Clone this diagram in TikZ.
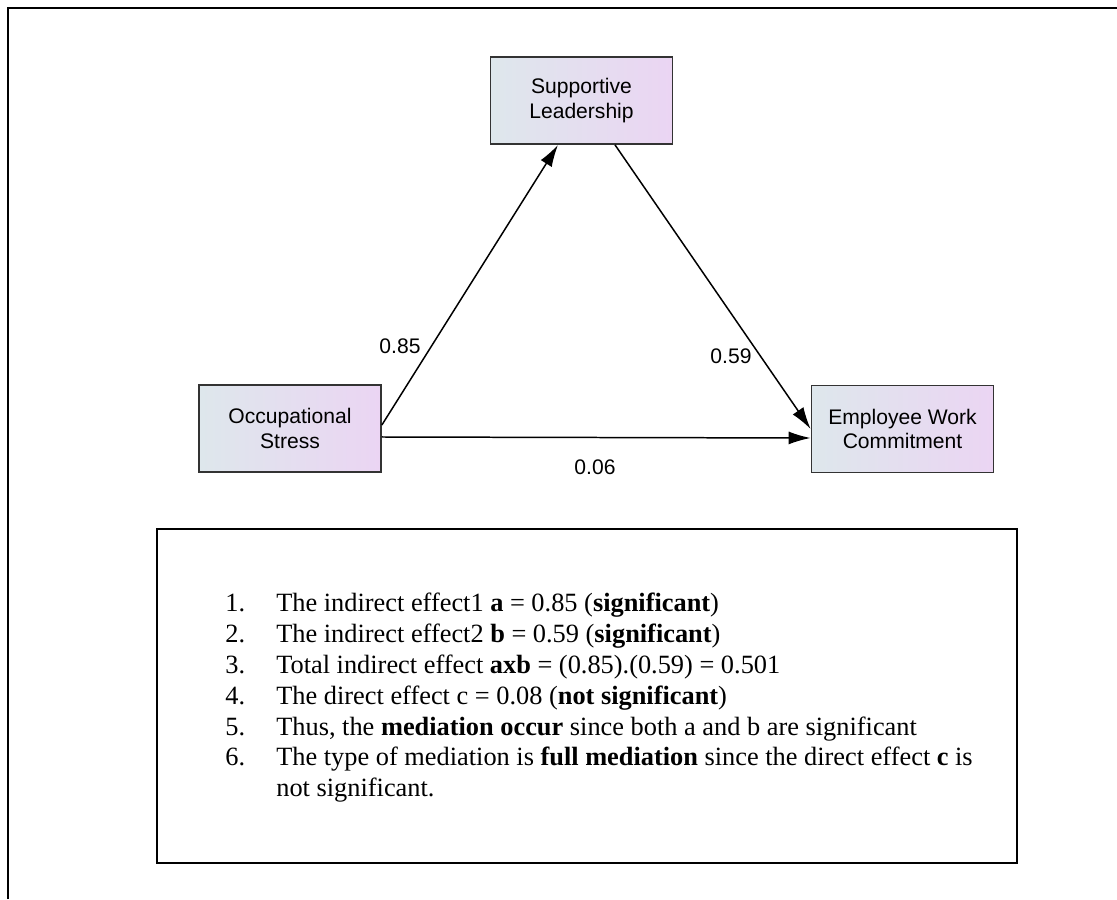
\documentclass[tikz,border=0pt]{standalone}
\usepackage{fontspec}
\setmainfont{Liberation Sans}
\newfontfamily\notefont{Liberation Serif}
\usetikzlibrary{arrows.meta}
\definecolor{boxleft}{RGB}{222,231,236}
\definecolor{boxright}{RGB}{235,213,243}

\begin{document}
\begin{tikzpicture}[
  varbox/.style={draw=black!80, line width=1pt, left color=boxleft, right color=boxright,
    minimum width=3.64cm, minimum height=1.74cm, align=center,
    font=\fontsize{12}{14}\selectfont},
  effect/.style={line width=0.85pt, -{Latex[length=4.4mm,width=2.6mm]}},
  coeflabel/.style={font=\fontsize{12}{14}\selectfont}
]
\useasboundingbox (0,0) rectangle (22.34,17.98);
\draw[line width=1.2pt] (0.16,0) -- (0.16,17.82) -- (22.34,17.82);

\node[varbox] (os) at (5.80,9.41) {Occupational\\Stress};
\node[varbox] (sl) at (11.63,15.97) {Supportive\\Leadership};
\node[varbox] (ewc) at (18.05,9.40) {Employee Work\\Commitment};

\draw[effect] ([yshift=0.07cm]os.east) -- ([xshift=-0.47cm]sl.south);
\draw[effect] ([xshift=0.67cm]sl.south) -- (ewc.west);
\draw[effect] ([yshift=-0.17cm]os.east) -- ([yshift=-0.18cm]ewc.west);

\node[coeflabel] (a) at (8.00,11.05) {0.85};
\node[coeflabel] (b) at (14.62,10.86) {0.59};
\node[coeflabel] (c) at (11.90,8.64) {0.06};

\node[draw, line width=1.2pt, minimum width=17.2cm, minimum height=6.68cm] (notes) at (11.74,4.06) {};
\node[anchor=base west, inner sep=0pt, font=\notefont\fontsize{15}{17.5}\selectfont] (list) at (4.50,5.74) {%
  \begin{tabular}[t]{@{}p{1.02cm}@{}l@{}}
  1. & The indirect effect1 \textbf{a} = 0.85 (\textbf{significant})\\
  2. & The indirect effect2 \textbf{b} = 0.59 (\textbf{significant})\\
  3. & Total indirect effect \textbf{axb} = (0.85).(0.59) = 0.501\\
  4. & The direct effect c = 0.08 (\textbf{not significant})\\
  5. & Thus, the \textbf{mediation occur} since both a and b are significant\\
  6. & The type of mediation is \textbf{full mediation} since the direct effect \textbf{c} is\\
     & not significant.
  \end{tabular}};
\end{tikzpicture}
\end{document}
